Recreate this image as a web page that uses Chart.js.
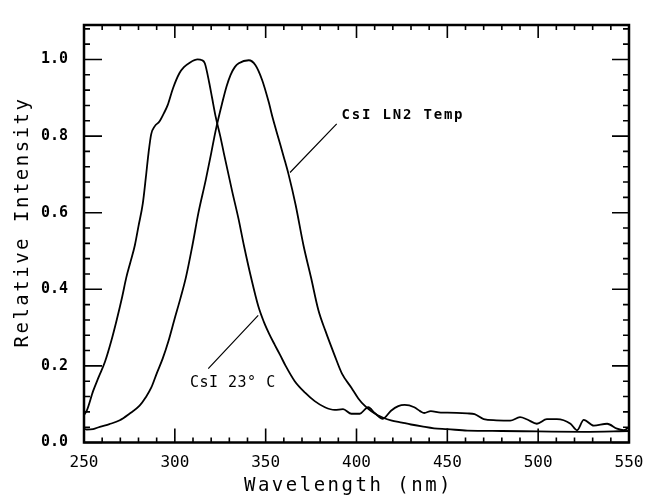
<!DOCTYPE html>
<html>
<head>
<meta charset="utf-8">
<script src="https://cdn.jsdelivr.net/npm/chart.js@4.4.0/dist/chart.umd.min.js"></script>
<style>
  html, body { margin: 0; padding: 0; background: #fff; }
  #wrap { width: 661px; height: 498px; }
</style>
</head>
<body>
<div id="wrap"><canvas id="spectrum" width="661" height="498"></canvas></div>
<script>
// CsI emission at room temperature (wavelength in nm, relative intensity)
const roomWave = [250, 251.5, 255, 258, 261.5, 265, 268, 271, 273.3, 275.5, 278, 280, 282.4, 284, 285.5, 287, 289, 291.5, 294, 296, 299, 302.5, 305, 308, 312.5, 315, 316.5, 318.9, 320.5, 322.5, 325, 327, 331.6, 335, 338, 342, 346, 349, 352, 355, 358, 361, 366, 371.7, 377, 382.6, 388, 392.6, 397.2, 401.8, 405, 406.5, 410, 414.5, 419, 423, 426.5, 431.8, 435, 437.3, 440.9, 446.4, 450, 461, 465, 470, 477, 484.6, 490, 494, 499.3, 504.8, 510.3, 517.8, 521.4, 525.1, 530.6, 538, 543.4, 547, 550];
const roomIntensity = [0.072, 0.083, 0.134, 0.17, 0.21, 0.265, 0.32, 0.38, 0.431, 0.47, 0.515, 0.565, 0.625, 0.69, 0.755, 0.805, 0.826, 0.838, 0.86, 0.88, 0.925, 0.964, 0.98, 0.991, 1.0, 0.998, 0.99, 0.94, 0.9, 0.85, 0.8, 0.755, 0.655, 0.585, 0.515, 0.43, 0.355, 0.315, 0.283, 0.255, 0.228, 0.2, 0.16, 0.13, 0.108, 0.092, 0.085, 0.087, 0.075, 0.075, 0.088, 0.092, 0.077, 0.062, 0.083, 0.095, 0.098, 0.092, 0.082, 0.077, 0.082, 0.078, 0.078, 0.076, 0.074, 0.061, 0.058, 0.057, 0.066, 0.06, 0.049, 0.061, 0.061, 0.049, 0.032, 0.059, 0.044, 0.049, 0.036, 0.032, 0.04];

// CsI emission at liquid nitrogen temperature
const ln2Wave = [250, 251.5, 255, 258.7, 264, 269.7, 275, 280.6, 284, 287, 290, 293.3, 296.5, 299.7, 303, 306.1, 309.7, 313, 317, 320, 322.5, 326, 328.5, 330.7, 333, 335.2, 340.7, 344.4, 348, 351.6, 354, 357, 360, 362.6, 366.5, 370.8, 375, 379, 383, 388, 392, 397.2, 401, 404.5, 408, 411.7, 415, 419, 425, 430, 436, 442.7, 450, 461, 480, 500, 525, 550];
const ln2Intensity = [0.036, 0.034, 0.035, 0.041, 0.048, 0.058, 0.075, 0.096, 0.118, 0.143, 0.18, 0.219, 0.265, 0.32, 0.375, 0.431, 0.515, 0.6, 0.685, 0.755, 0.815, 0.885, 0.93, 0.96, 0.98, 0.99, 0.998, 0.985, 0.947, 0.89, 0.845, 0.795, 0.745, 0.7, 0.62, 0.515, 0.43, 0.346, 0.29, 0.227, 0.18, 0.143, 0.115, 0.096, 0.082, 0.071, 0.064, 0.058, 0.052, 0.047, 0.042, 0.037, 0.035, 0.031, 0.03, 0.029, 0.028, 0.03];

const yTickLabels = ['0.0', '0.2', '0.4', '0.6', '0.8', '1.0'];

const toPoints = (xs, ys) => xs.map((x, i) => ({ x: x, y: ys[i] }));

const plotFont = 'DejaVu Sans Mono';

// inward tick marks on all four sides plus the frame
const frameTicks = {
  id: 'frameTicks',
  afterDatasetsDraw(chart) {
    const { ctx, chartArea: a, scales: { x, y } } = chart;
    ctx.save();
    ctx.strokeStyle = '#000';
    ctx.lineWidth = 2.5;
    ctx.strokeRect(a.left, a.top, a.right - a.left, a.bottom - a.top);
    ctx.lineWidth = 1.6;
    ctx.beginPath();
    for (let v = 250; v <= 550; v += 10) {
      const px = x.getPixelForValue(v);
      const major = v % 50 === 0;
      ctx.moveTo(px, a.bottom); ctx.lineTo(px, a.bottom - (major ? 14 : 5));
      ctx.moveTo(px, a.top); ctx.lineTo(px, a.top + (major ? 13 : 5));
    }
    for (let i = 0; i <= 27; i++) {
      const v = i * 0.04;
      const py = y.getPixelForValue(v);
      const major = i % 5 === 0;
      ctx.moveTo(a.left, py); ctx.lineTo(a.left + (major ? 18 : 6), py);
      ctx.moveTo(a.right, py); ctx.lineTo(a.right - (major ? 17 : 6), py);
    }
    ctx.stroke();
    ctx.restore();
  },
  afterDraw(chart) {
    const { ctx, chartArea: a, scales: { x, y } } = chart;
    ctx.save();
    ctx.fillStyle = '#000';
    ctx.strokeStyle = '#000';
    ctx.lineWidth = 1.2;

    // axis titles
    ctx.letterSpacing = '2.5px';
    ctx.font = '19px "' + plotFont + '"';
    ctx.textAlign = 'center';
    ctx.textBaseline = 'middle';
    ctx.fillText('Wavelength (nm)', (a.left + a.right) / 2 - 8, 486);
    ctx.save();
    ctx.translate(23, 222);
    ctx.rotate(-Math.PI / 2);
    ctx.fillText('Relative Intensity', 0, 0);
    ctx.restore();

    // curve labels with leader lines
    ctx.beginPath();
    ctx.moveTo(x.getPixelForValue(363.4), y.getPixelForValue(0.705));
    ctx.lineTo(x.getPixelForValue(389.1), y.getPixelForValue(0.832));
    ctx.moveTo(x.getPixelForValue(318.4), y.getPixelForValue(0.193));
    ctx.lineTo(x.getPixelForValue(345.9), y.getPixelForValue(0.332));
    ctx.stroke();

    ctx.textAlign = 'left';
    ctx.letterSpacing = '1.8px';
    ctx.font = 'bold 14px "' + plotFont + '"';
    ctx.fillText('CsI LN2 Temp', x.getPixelForValue(391.8), y.getPixelForValue(0.853));
    ctx.letterSpacing = '0.5px';
    ctx.font = '15px "' + plotFont + '"';
    ctx.fillText('CsI 23\u00B0 C', x.getPixelForValue(308.3), y.getPixelForValue(0.155));
    ctx.restore();
  }
};

const ctx = document.getElementById('spectrum').getContext('2d');
new Chart(ctx, {
  type: 'line',
  data: {
    datasets: [
      {
        label: 'CsI 23° C',
        data: toPoints(roomWave, roomIntensity),
        borderColor: '#000',
        borderWidth: 1.8,
        pointRadius: 0,
        cubicInterpolationMode: 'monotone',
        fill: false
      },
      {
        label: 'CsI LN2 Temp',
        data: toPoints(ln2Wave, ln2Intensity),
        borderColor: '#000',
        borderWidth: 1.8,
        pointRadius: 0,
        cubicInterpolationMode: 'monotone',
        fill: false
      }
    ]
  },
  options: {
    responsive: false,
    animation: false,
    layout: { padding: { left: 0, right: 32, top: 12, bottom: 0 } },
    plugins: {
      legend: { display: false },
      tooltip: { enabled: false }
    },
    scales: {
      x: {
        type: 'linear',
        min: 250,
        max: 550,
        grid: { display: false, drawTicks: false },
        border: { display: false },
        ticks: {
          stepSize: 50,
          padding: 11,
          color: '#000',
          font: { family: plotFont, size: 16 }
        },
        afterFit: (scale) => { scale.height = 55.5; }
      },
      y: {
        type: 'linear',
        min: 0,
        max: 1.09,
        grid: { display: false, drawTicks: false },
        border: { display: false },
        ticks: {
          stepSize: 0.2,
          includeBounds: false,
          padding: 16,
          color: '#000',
          font: { family: plotFont, size: 15, weight: 'bold' },
          callback: (value) => yTickLabels[Math.round(value / 0.2)] || ''
        },
        afterFit: (scale) => { scale.width = 84; }
      }
    }
  },
  plugins: [frameTicks]
});
</script>
</body>
</html>
